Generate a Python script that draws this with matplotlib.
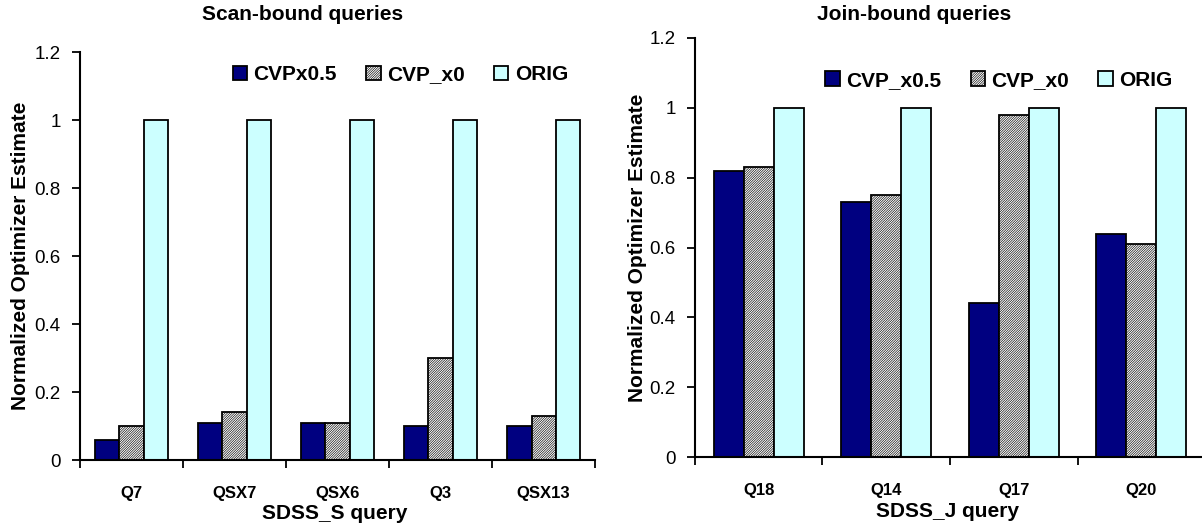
import numpy as np
import matplotlib
matplotlib.use("Agg")
import matplotlib.pyplot as plt

plt.rcParams['font.family'] = ['Liberation Sans', 'DejaVu Sans']
plt.rcParams['hatch.linewidth'] = 0.45

# Scan-bound queries (SDSS_S)
scan_queries = ['Q7', 'QSX7', 'QSX6', 'Q3', 'QSX13']
scan_cvp05 = [0.06, 0.11, 0.11, 0.10, 0.10]
scan_cvp0 = [0.10, 0.14, 0.11, 0.30, 0.13]
scan_orig = [1, 1, 1, 1, 1]

# Join-bound queries (SDSS_J)
join_queries = ['Q18', 'Q14', 'Q17', 'Q20']
join_cvp05 = [0.82, 0.73, 0.44, 0.64]
join_cvp0 = [0.83, 0.75, 0.98, 0.61]
join_orig = [1, 1, 1, 1]

yticks = [0, 0.2, 0.4, 0.6, 0.8, 1, 1.2]
ytick_labels = ['0', '0.2', '0.4', '0.6', '0.8', '1', '1.2']

navy = '#000080'
cyan = '#CCFFFF'
bar_w = 0.235

fig = plt.figure(figsize=(12.02, 5.27), dpi=100)
ax1 = fig.add_axes([0.0666, 0.1271, 0.4285, 0.7742])
ax2 = fig.add_axes([0.5782, 0.1328, 0.4243, 0.7951])


def draw_panel(ax, queries, cvp05, cvp0, orig, xlabel, ylab_x, xlab_y):
    x = np.arange(len(queries))
    b1 = ax.bar(x - bar_w, cvp05, bar_w, color=navy, edgecolor='black', linewidth=1.3)
    b2 = ax.bar(x, cvp0, bar_w, color='white', edgecolor='black', linewidth=1.3, hatch='/' * 14)
    b3 = ax.bar(x + bar_w, orig, bar_w, color=cyan, edgecolor='black', linewidth=1.3)

    ax.set_xlim(-0.5, len(queries) - 0.5)
    ax.set_ylim(0, 1.2)
    ax.set_yticks(yticks)
    ax.set_yticklabels(ytick_labels, fontsize=13.5)
    ax.set_xticks(x)
    ax.set_xticklabels(queries, fontsize=12, fontweight='bold')
    ax.set_xticks(np.arange(len(queries) + 1) - 0.5, minor=True)
    ax.tick_params(axis='x', which='major', length=0, pad=19)
    ax.tick_params(axis='x', which='minor', length=6, width=1.3, direction='out')
    ax.tick_params(axis='y', length=6, width=1.3, direction='out', pad=8)

    for side in ['top', 'right']:
        ax.spines[side].set_visible(False)
    for side in ['left', 'bottom']:
        ax.spines[side].set_linewidth(1.5)

    ax.set_xlabel(xlabel, fontsize=15, fontweight='bold', va='center')
    ax.set_ylabel('Normalized Optimizer Estimate', fontsize=15, fontweight='bold', va='center')
    ax.xaxis.set_label_coords(0.495, xlab_y)
    ax.yaxis.set_label_coords(ylab_x, 0.5)
    return [b1, b2, b3]


h1 = draw_panel(ax1, scan_queries, scan_cvp05, scan_cvp0, scan_orig, 'SDSS_S query', -0.115, -0.132)
h2 = draw_panel(ax2, join_queries, join_cvp05, join_cvp0, join_orig, 'SDSS_J query', -0.113, -0.129)

leg_kw = dict(ncol=3, frameon=False, loc='center', handlelength=0.7, handleheight=0.7,
              handletextpad=0.3, columnspacing=1.4, prop={'weight': 'bold', 'size': 15})
fig.legend(h1, ['CVPx0.5', 'CVP_x0', 'ORIG'], bbox_to_anchor=(0.333, 0.858), **leg_kw)
fig.legend(h2, ['CVP_x0.5', 'CVP_x0', 'ORIG'], bbox_to_anchor=(0.831, 0.848), **leg_kw)

fig.text(303 / 1202, 1 - 15 / 527, 'Scan-bound queries', ha='center', va='center',
         fontsize=15, fontweight='bold')
fig.text(914 / 1202, 1 - 15 / 527, 'Join-bound queries', ha='center', va='center',
         fontsize=15, fontweight='bold')

fig.savefig('out.png', dpi=100)
